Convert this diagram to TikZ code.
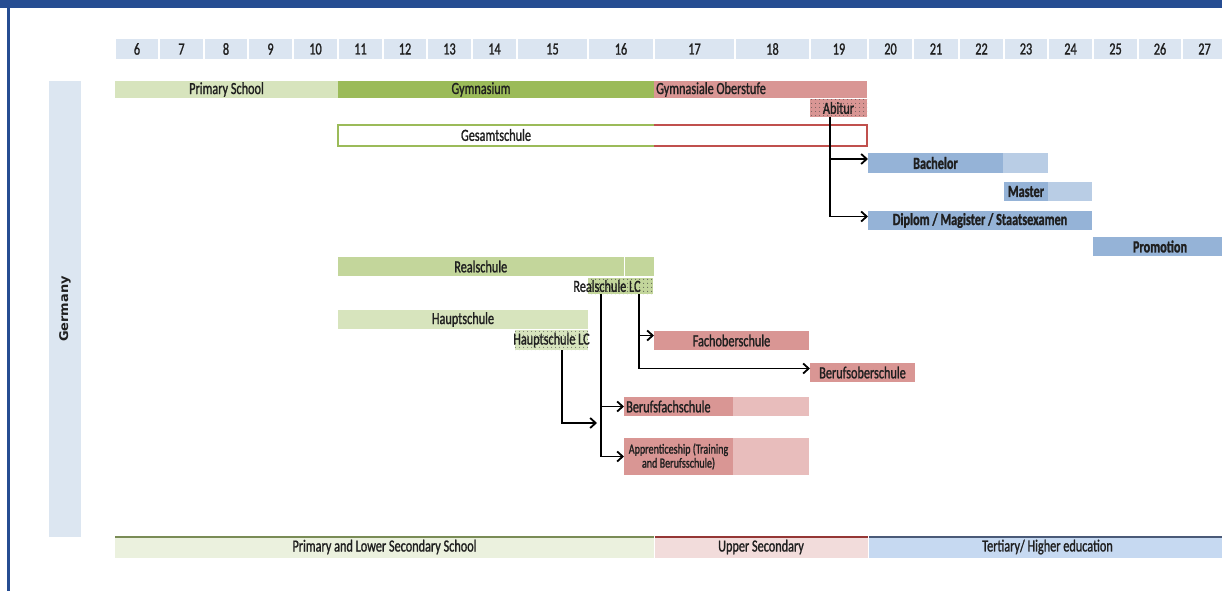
\documentclass[tikz,border=0pt]{standalone}
\usepackage{fontspec}
\setmainfont{Carlito}[FakeStretch=0.72, FakeBold=1.2]
\newfontfamily\sidefont{DejaVu Sans}[FakeStretch=1.08]
\usetikzlibrary{arrows.meta}
\usetikzlibrary{patterns.meta}

\definecolor{titlecol}{HTML}{264D92}
\definecolor{headcol}{HTML}{DBE5F1}
\definecolor{sidecol}{HTML}{DCE6F1}
\definecolor{primcol}{HTML}{D7E4BD}
\definecolor{gymcol}{HTML}{9BBB59}
\definecolor{realcol}{HTML}{C3D69B}
\definecolor{rosecol}{HTML}{D99694}
\definecolor{roselight}{HTML}{E8BDBC}
\definecolor{bluecol}{HTML}{95B3D7}
\definecolor{bluelight}{HTML}{B9CDE5}
\definecolor{gesline}{HTML}{9BBB59}
\definecolor{oberline}{HTML}{C0504D}
\definecolor{botgreen}{HTML}{EBF1DE}
\definecolor{botpink}{HTML}{F2DCDB}
\definecolor{botblue}{HTML}{C6D9F1}
\definecolor{greenline}{HTML}{7A8C56}
\definecolor{pinkline}{HTML}{953735}
\definecolor{blueline}{HTML}{4A5A78}

\begin{document}
\begin{tikzpicture}[x=1pt, y=-1pt,
        font=\fontsize{17pt}{18pt}\selectfont, text=black!88,
        bar/.style={rectangle, inner sep=0pt, outer sep=0pt, minimum height=19pt},
        age/.style={bar, fill=headcol, minimum height=20pt},
        lcbox/.style={bar, preaction={fill=#1}, pattern={Dots[distance=4pt,radius=0.55pt]}, pattern color=black!75},
        band/.style={bar, minimum height=21pt},
        lefttext/.style={anchor=west, xshift=2pt, inner sep=0pt},
        conn/.style={line width=1.8pt, -{Straight Barb[length=5.5pt,width=10pt]}}]

            %\draw [help lines] (0,0) grid (1222,591);
            \useasboundingbox (0,0) rectangle (1222,591);

            % frame
            \fill [titlecol] (0,0) rectangle (1222,8.5);
            \fill [titlecol] (7,0) rectangle (9.5,591);

            % ages
            \path   (137,49)    node (a6)  [age, minimum width=42.5pt] {6}
                    (181.5,49)  node (a7)  [age, minimum width=43.5pt] {7}
                    (226,49)    node (a8)  [age, minimum width=42.5pt] {8}
                    (270.5,49)  node (a9)  [age, minimum width=43.5pt] {9}
                    (315.5,49)  node (a10) [age, minimum width=43.5pt] {10}
                    (360.5,49)  node (a11) [age, minimum width=43.5pt] {11}
                    (405,49)    node (a12) [age, minimum width=42.5pt] {12}
                    (449.5,49)  node (a13) [age, minimum width=43.5pt] {13}
                    (494.5,49)  node (a14) [age, minimum width=43.5pt] {14}
                    (552.5,49)  node (a15) [age, minimum width=69.5pt] {15}
                    (621,49)    node (a16) [age, minimum width=64.5pt] {16}
                    (694.5,49)  node (a17) [age, minimum width=79.5pt] {17}
                    (772.5,49)  node (a18) [age, minimum width=73.5pt] {18}
                    (839,49)    node (a19) [age, minimum width=56.5pt] {19}
                    (890.5,49)  node (a20) [age, minimum width=43.5pt] {20}
                    (936,49)    node (a21) [age, minimum width=44.5pt] {21}
                    (981.5,49)  node (a22) [age, minimum width=43.5pt] {22}
                    (1026,49)   node (a23) [age, minimum width=42.5pt] {23}
                    (1070.5,49) node (a24) [age, minimum width=43.5pt] {24}
                    (1115.5,49) node (a25) [age, minimum width=43.5pt] {25}
                    (1160,49)   node (a26) [age, minimum width=42.5pt] {26}
                    (1204.5,49) node (a27) [age, minimum width=43.5pt] {27};

            % country
            \path   (65,309) node (de) [bar, fill=sidecol, rotate=90, minimum width=456pt, minimum height=32pt,
                        font=\sidefont\bfseries\fontsize{12pt}{12pt}\selectfont] {Germany};

            % schools
            \path   (226.5,89.5) node (prim) [bar, fill=primcol, minimum width=223pt, minimum height=17pt] {Primary School}
                    (481,89.5)   node (gym)  [bar, fill=gymcol, minimum width=286pt, minimum height=17pt] {Gymnasium}
                    (639,89.5)   node (gymb) [bar, fill=gymcol, minimum width=30pt, minimum height=17pt] {}
                    (760.5,89.5) node (obs)  [bar, fill=rosecol, minimum width=213pt, minimum height=17pt] {}
                    (838.5,108)  node (abi)  [lcbox=rosecol, minimum width=57pt, minimum height=18pt] {Abitur}
                    (496,135)    node (ges)  [bar, minimum width=316pt, minimum height=21pt] {Gesamtschule}
                    (760.5,135)  node (gesb) [bar, minimum width=213pt, minimum height=21pt] {}
                    (480.75,266.5) node (real)  [bar, fill=realcol, minimum width=285.5pt] {Realschule}
                    (639.25,266.5) node (realb) [bar, fill=realcol, minimum width=29.5pt] {}
                    (620.5,286)  node (rlc)  [lcbox=realcol, minimum width=65pt, minimum height=16pt,
                        label={[xshift=-13.5pt]center:Realschule LC}] {}
                    (463,319.5)  node (haupt) [bar, fill=primcol, minimum width=250pt] {Hauptschule}
                    (551.5,340)  node (hlc)  [lcbox=primcol, minimum width=73pt, minimum height=20pt,
                        label={center:Hauptschule LC}] {};
            \node [lefttext] at (obs.west) {Gymnasiale Oberstufe};

            \draw [gesline, line width=2pt] (ges.north east) -| (ges.south west) -- (ges.south east);
            \draw [oberline, line width=2pt] (gesb.north west) -| (gesb.south east) -- (gesb.south west);

            % vocational
            \path   (731.5,340.5) node (fos)  [bar, fill=rosecol, minimum width=155pt] {Fachoberschule}
                    (862.5,372.5) node (bos)  [bar, fill=rosecol, minimum width=105pt] {Berufsoberschule}
                    (678.5,406.5) node (bfs)  [bar, fill=rosecol, minimum width=109pt] {}
                    (771,406.5)   node (bfsb) [bar, fill=roselight, minimum width=76pt] {}
                    (678.5,456.5) node (app)  [bar, fill=rosecol, minimum width=109pt, minimum height=37pt, align=center,
                        font=\fontsize{14pt}{14pt}\selectfont] {Apprenticeship (Training\\and Berufsschule)}
                    (771,456.5)   node (appb) [bar, fill=roselight, minimum width=76pt, minimum height=37pt] {};
            \node [lefttext] at (bfs.west) {Berufsfachschule};

            % tertiary
            \path   (935.5,163)  node (bach)  [bar, fill=bluecol, minimum width=135pt, minimum height=20pt] {\bfseries Bachelor}
                    (1025.5,163) node (bachb) [bar, fill=bluelight, minimum width=45pt, minimum height=20pt] {}
                    (1026,191.5) node (mast)  [bar, fill=bluecol, minimum width=44pt] {\bfseries Master}
                    (1070,191.5) node (mastb) [bar, fill=bluelight, minimum width=44pt] {}
                    (980,220.5)  node (dip)   [bar, fill=bluecol, minimum width=224pt] {\bfseries Diplom / Magister / Staatsexamen}
                    (1160,246.5) node (prom)  [bar, fill=bluecol, minimum width=134pt] {\bfseries Promotion};

            % levels
            \path   (384.5,547)  node (lower) [band, fill=botgreen, minimum width=539pt] {Primary and Lower Secondary School}
                    (761,547)    node (upper) [band, fill=botpink, minimum width=213pt] {Upper Secondary}
                    (1047.5,547) node (tert)  [band, fill=botblue, minimum width=358pt] {Tertiary/ Higher education};
            \draw [greenline, line width=2pt] (lower.north west) -- (lower.north east);
            \draw [pinkline, line width=2pt] (upper.north west) -- (upper.north east);
            \draw [blueline, line width=2pt] (tert.north west) -- (tert.north east);

            % paths
            \coordinate (hend) at (597,423);
            \draw [conn] ([xshift=20pt]abi.south west) |- ([yshift=4pt]bach.west);
            \draw [conn] ([xshift=20pt]abi.south west) |- ([yshift=4pt]dip.west);
            \draw [conn] ([xshift=13pt]rlc.south west) |- (bfs.west);
            \draw [conn] ([xshift=13pt]rlc.south west) |- (app.west);
            \draw [conn] ([xshift=-14pt]rlc.south east) |- ([yshift=5pt]fos.west);
            \draw [conn] ([xshift=-14pt]rlc.south east) |- ([yshift=4pt]bos.west);
            \draw [conn] ([xshift=47pt]hlc.south west) |- (hend);

        \end{tikzpicture}
\end{document}
